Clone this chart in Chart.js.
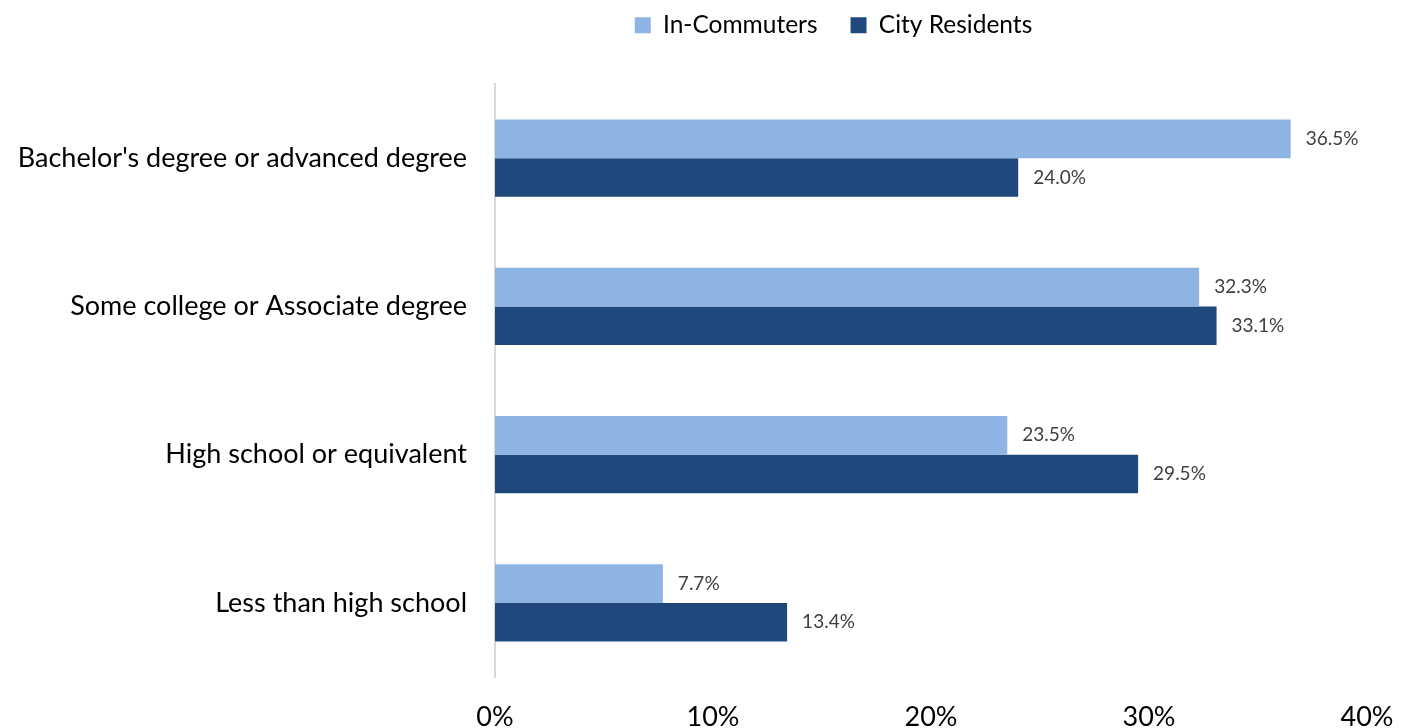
<!DOCTYPE html>
<html>
<head>
<meta charset="utf-8">
<script src="https://cdn.jsdelivr.net/npm/chart.js@4"></script>
<style>
    html, body { margin: 0; padding: 0; background: #fff; }
    #wrap { width: 1406px; height: 728px; }
</style>
</head>
<body>
<div id="wrap"><canvas id="eduChart"></canvas></div>
<script>
// Chart data
const categories = [
    "Bachelor's degree or advanced degree",
    'Some college or Associate degree',
    'High school or equivalent',
    'Less than high school'
];
const inCommuters = [36.5, 32.3, 23.5, 7.7];
const cityResidents = [24.0, 33.1, 29.5, 13.4];
const xTicks = [0, 10, 20, 30, 40];

const FONT = 'Lato, "Open Sans", sans-serif';

// draws the value next to each bar
const valueLabels = {
    id: 'valueLabels',
    afterDatasetsDraw(chart) {
        const ctx = chart.ctx;
        ctx.save();
        ctx.font = '19px ' + FONT;
        ctx.fillStyle = '#404040';
        ctx.textAlign = 'left';
        ctx.textBaseline = 'middle';
        chart.data.datasets.forEach((ds, i) => {
            chart.getDatasetMeta(i).data.forEach((bar, j) => {
                ctx.fillText(ds.data[j].toFixed(1) + '%', bar.x + 15, bar.y);
            });
        });
        ctx.restore();
    }
};

// fixed legend block height, and nudge the legend into place
const legendTweak = {
    id: 'legendTweak',
    beforeInit(chart) {
        const legend = chart.legend;
        if (!legend) return;
        const origFit = legend.fit;
        legend.fit = function() {
            origFit.call(this);
            this.height = 84;
        };
        const origDraw = legend.draw;
        legend.draw = function() {
            const c = this.ctx;
            c.save();
            c.translate(150, -20);
            origDraw.call(this);
            c.restore();
        };
    }
};

const ctx = document.getElementById('eduChart').getContext('2d');
new Chart(ctx, {
    type: 'bar',
    data: {
        labels: categories,
        datasets: [
            {
                label: 'In-Commuters',
                data: inCommuters,
                backgroundColor: '#8EB4E3'
            },
            {
                label: 'City Residents',
                data: cityResidents,
                backgroundColor: '#1F497D'
            }
        ]
    },
    options: {
        indexAxis: 'y',
        responsive: true,
        maintainAspectRatio: false,
        animation: false,
        categoryPercentage: 0.52,
        barPercentage: 1,
        layout: { padding: { left: 0, right: 39, top: 0, bottom: 0 } },
        scales: {
            x: {
                min: 0,
                max: 40,
                afterBuildTicks: axis => { axis.ticks = xTicks.map(v => ({ value: v })); },
                grid: { display: false, drawTicks: false },
                border: { display: false },
                ticks: {
                    color: '#000',
                    font: { family: FONT, size: 27 },
                    padding: 24,
                    maxRotation: 0,
                    callback: v => v + '%'
                },
                afterFit: axis => {
                    axis.height = 51;
                    axis.paddingLeft = 0;
                    axis.paddingRight = 0;
                }
            },
            y: {
                grid: { display: false, drawTicks: false },
                border: { display: true, color: '#d9d9d9', width: 2 },
                ticks: {
                    color: '#000',
                    font: { family: FONT, size: 27 },
                    padding: 28
                },
                afterFit: axis => { axis.width = 495; }
            }
        },
        plugins: {
            legend: {
                position: 'top',
                labels: {
                    color: '#000',
                    font: { family: FONT, size: 24.5 },
                    boxWidth: 16,
                    boxHeight: 16,
                    padding: 33
                }
            },
            tooltip: { enabled: false }
        }
    },
    plugins: [valueLabels, legendTweak]
});
</script>
</body>
</html>
